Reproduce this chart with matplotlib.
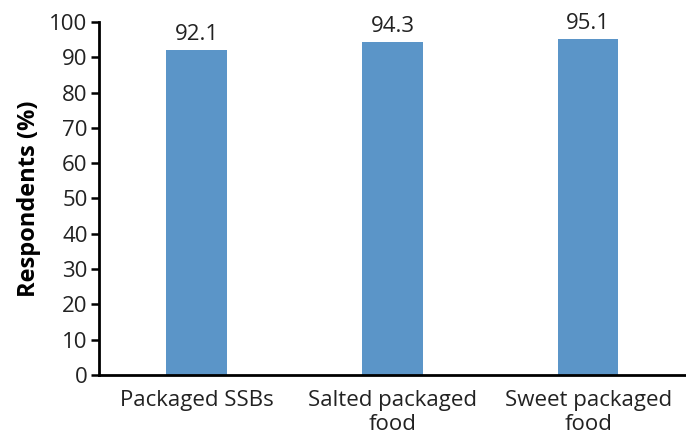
import matplotlib
matplotlib.use("Agg")
import matplotlib.pyplot as plt

categories = ["Packaged SSBs", "Salted packaged\nfood", "Sweet packaged\nfood"]
values = [92.1, 94.3, 95.1]
yticks = [0, 10, 20, 30, 40, 50, 60, 70, 80, 90, 100]

plt.rcParams['font.family'] = ['Open Sans', 'DejaVu Sans']

fig = plt.figure(figsize=(6.86, 4.30), dpi=100)
ax = fig.add_axes([0.144, 0.128, 0.856, 0.821])

x = list(range(len(categories)))
bars = ax.bar(x, values, width=0.31, color="#5B95C8")
for xi, v in zip(x, values):
    ax.text(xi, v + 1.5, f"{v}", ha="center", va="bottom", fontsize=16, color="#222222")

ax.set_xlim(-0.5, 2.5)
ax.set_ylim(0, 100)
ax.set_yticks(yticks)
ax.set_yticklabels([str(t) for t in yticks], fontsize=16, color="#222222")
ax.set_xticks(x)
ax.set_xticklabels(categories, fontsize=16, color="#222222", linespacing=1.2)
ax.tick_params(axis="x", length=0, pad=11)
ax.tick_params(axis="y", length=6, width=1.8, direction="out", pad=2)
ax.set_ylabel("Respondents (%)", fontsize=17, fontweight="bold", labelpad=6)

for s in ["top", "right"]:
    ax.spines[s].set_visible(False)
for s in ["left", "bottom"]:
    ax.spines[s].set_linewidth(2)
    ax.spines[s].set_color("black")

fig.savefig("out.png", dpi=100)
